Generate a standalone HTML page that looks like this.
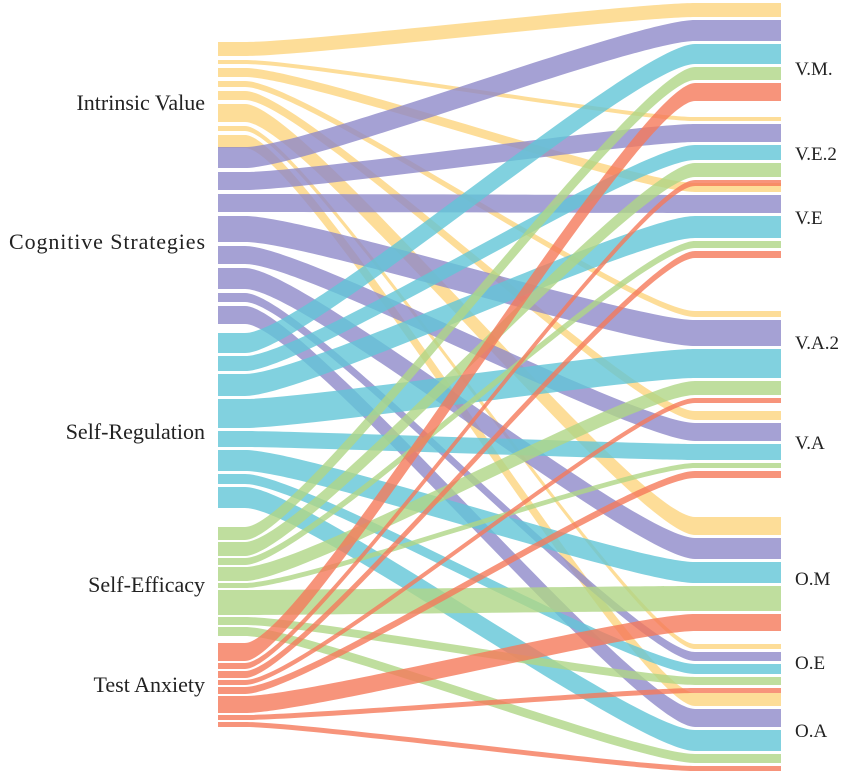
<!DOCTYPE html>
<html><head><meta charset="utf-8"><style>
body{margin:0;background:#fff;}
svg{display:block;}
text{font-family:"Liberation Serif","DejaVu Serif",serif;fill:#222;}
</style></head><body>
<svg id="chart" width="851" height="773" viewBox="0 0 851 773">
<g id="links"></g>
<g id="labels"></g>
</svg>
<script>
const sources = ["Intrinsic Value","Cognitive Strategies","Self-Regulation","Self-Efficacy","Test Anxiety"];
const targets = ["V.M.","V.E.2","V.E","V.A.2","V.A","O.M","O.E","O.A"];
// flow values: per source, one value per target
const intrinsicValue = [14,4,9,6,9,18,5,13];
const cognitiveStrategies = [21,18,18,26,18,21,9,18];
const selfRegulation = [20,15,22,29,16,21,10,21];
const selfEfficacy = [13,14,7,14,5,25,8,9];
const testAnxiety = [18,6,7,5,7,17,5,5];

const flows=[intrinsicValue,cognitiveStrategies,selfRegulation,selfEfficacy,testAnxiety];
const colors=["#fdd47e","#8f89c9","#62c6d7","#afd686","#f5795a"];
// layout
const srcStart=[42,147,333,527,643], srcGap=[4,4,3,2,2];
const srcLabelY=[103,242,432,585,685];
const tgtStart=[3,117,183,311,411,517,644,693], tgtGap=3;
const xL=218,xL2=245,xR2=695,xR=781;

const NS="http://www.w3.org/2000/svg";
const gL=document.getElementById('links'), gT=document.getElementById('labels');
const tgtPos=targets.map((t,j)=>{let y=tgtStart[j];const arr=[];for(let i=0;i<sources.length;i++){arr.push(y);y+=flows[i][j]+tgtGap;}return arr;});
function band(y0,y1,w){
  const c1=xL2+60,c2=xR2-60;
  return `M${xL},${y0} L${xL2},${y0} C${c1},${y0} ${c2},${y1} ${xR2},${y1} L${xR},${y1} L${xR},${y1+w} L${xR2},${y1+w} C${c2},${y1+w} ${c1},${y0+w} ${xL2},${y0+w} L${xL},${y0+w} Z`;
}
for(let i=0;i<sources.length;i++){
  let y=srcStart[i];
  for(let j=0;j<targets.length;j++){
    const w=flows[i][j];
    const p=document.createElementNS(NS,'path');
    p.setAttribute('d',band(y,tgtPos[j][i],w));
    p.setAttribute('fill',colors[i]);
    p.setAttribute('fill-opacity','0.8');
    
    
    gL.appendChild(p);
    y+=w+srcGap[i];
  }
  const t=document.createElementNS(NS,'text');
  t.setAttribute('x',205);t.setAttribute('y',srcLabelY[i]+7);
  t.setAttribute('text-anchor','end');t.setAttribute('font-size','22');
  t.setAttribute('textLength',i===1?196:null);
  if(i!==1)t.removeAttribute('textLength');
  t.textContent=sources[i];
  
  
  gT.appendChild(t);
}
const tgtLabelY=[68,153,217,342,442,578,662,730];
targets.forEach((name,j)=>{
  const t=document.createElementNS(NS,'text');
  t.setAttribute('x',795);t.setAttribute('y',tgtLabelY[j]+7);
  t.setAttribute('font-size','19');
  t.textContent=name;
  
  
  gT.appendChild(t);
});
</script>
</body></html>
